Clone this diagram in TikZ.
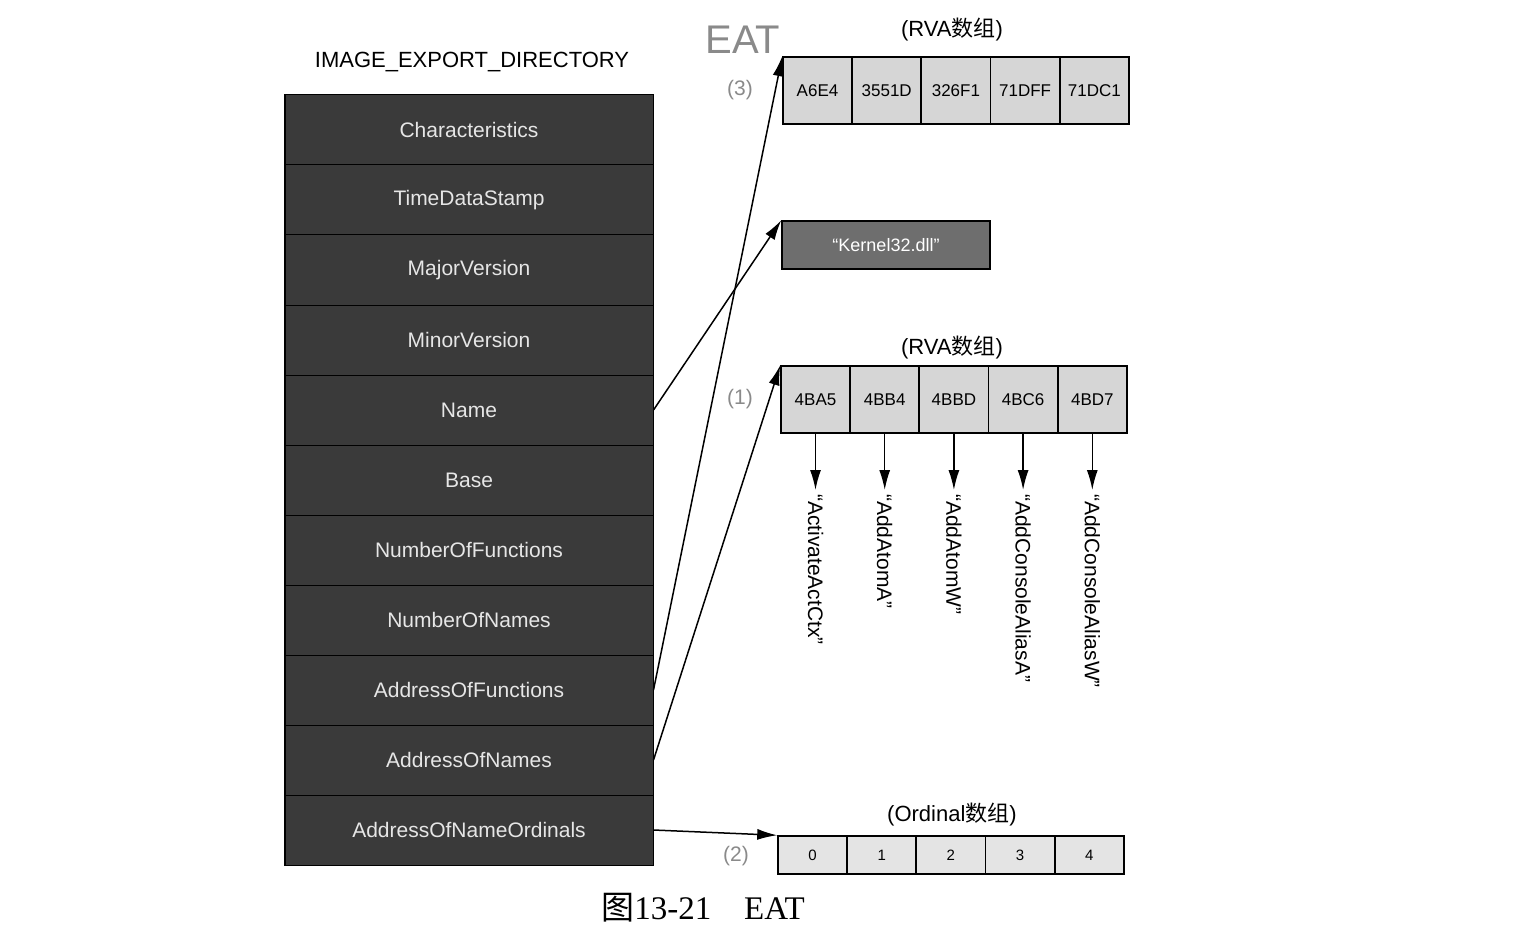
\documentclass[tikz,border=0pt]{standalone}
\usepackage{fontspec}
\setmainfont{Liberation Sans}
\newfontfamily\cjk{Noto Sans CJK SC}
\newfontfamily\capfont{Liberation Serif}
\usetikzlibrary{arrows.meta,positioning}
\definecolor{fielddark}{HTML}{3A3A3A}
\definecolor{fieldtext}{HTML}{E6E6E6}
\definecolor{cellgray}{HTML}{D6D6D6}
\definecolor{ordgray}{HTML}{E4E4E4}
\definecolor{kerngray}{HTML}{6E6E6E}
\definecolor{labelgray}{HTML}{8A8A8A}

\begin{document}
\begin{tikzpicture}[
    x=1pt, y=-1pt,
    >={Latex[length=20pt,width=11pt]},
    field/.style={draw=black, line width=1pt, fill=fielddark, text=fieldtext, minimum width=368pt, minimum height=70pt, inner sep=0pt, font=\fontsize{21}{23}\selectfont},
    cell/.style={draw=black, line width=1.5pt, fill=cellgray, minimum width=69pt, minimum height=67pt, inner sep=0pt, font=\fontsize{17}{19}\selectfont},
    ordcell/.style={cell, fill=ordgray, minimum height=38pt, font=\fontsize{15}{17}\selectfont},
    arrtitle/.style={font=\fontsize{22}{24}\selectfont},
    numlabel/.style={text=labelgray, font=\fontsize{21}{23}\selectfont},
    fname/.style={rotate=-90, anchor=west, inner sep=4pt, font=\fontsize{21}{23}\selectfont},
    link/.style={->, line width=1.5pt}
]
    \useasboundingbox (0,0) rectangle (1538,941);

    % export directory
    \node[font=\fontsize{22}{24}\selectfont] (dirtitle) at (472,62) {IMAGE\_EXPORT\_DIRECTORY};
    \foreach \lbl [count=\i] in {Characteristics, TimeDataStamp, MajorVersion, MinorVersion, Name, Base, NumberOfFunctions, NumberOfNames, AddressOfFunctions, AddressOfNames, AddressOfNameOrdinals}
        \node[field] (f\i) at (469, {130+70*(\i-1)}) {\lbl};
    \draw[line width=1.5pt] (f1.north west) rectangle (f11.south east);

    % arrays
    \node[font=\fontsize{40}{42}\selectfont, text=labelgray] (eatlbl) at (743,40) {EAT};
    \node[arrtitle] (eattitle) at (952,30) {(RVA{\cjk 数组})};
    \foreach \v [count=\i] in {A6E4, 3551D, 326F1, 71DFF, 71DC1}
        \node[cell] (eat\i) at ({817.5+69.2*(\i-1)}, 90.5) {\v};
    \node[numlabel] (num3) at (740,90) {(3)};

    \node[draw=black, line width=1.5pt, fill=kerngray, text=white, minimum width=208pt, minimum height=48pt, font=\fontsize{18}{20}\selectfont] (kern) at (886,245) {“Kernel32.dll”};

    \node[arrtitle] (namtitle) at (952,348) {(RVA{\cjk 数组})};
    \foreach \v [count=\i] in {4BA5, 4BB4, 4BBD, 4BC6, 4BD7}
        \node[cell] (nam\i) at ({815.5+69.2*(\i-1)}, 399.5) {\v};
    \node[numlabel] (num1) at (740,399) {(1)};

    \foreach \s [count=\i] in {ActivateActCtx, AddAtomA, AddAtomW, AddConsoleAliasA, AddConsoleAliasW} {
        \node[fname] (fn\i) at ({815.5+69.2*(\i-1)}, 490) {“\s”};
        \draw[link] (nam\i) -- (fn\i.west);
    }

    \node[arrtitle] (ordtitle) at (952,815) {(Ordinal{\cjk 数组})};
    \foreach \v in {0,...,4}
        \node[ordcell] (ord\v) at ({812.5+69.2*\v}, 855) {\v};
    \node[numlabel] (num2) at (736,856) {(2)};

    % pointers
    \draw[link] (f5.east) -- (kern.north west);
    \draw[link] (f9.east) -- (eat1.north west);
    \draw[link] (f10.east) -- (nam1.north west);
    \draw[link] (f11.east) -- (ord0.north west);

    \node[font=\fontsize{33}{35}\selectfont] (caption) at (703,908) {{\cjk 图}{\capfont 13-21\quad EAT}};
\end{tikzpicture}
\end{document}
